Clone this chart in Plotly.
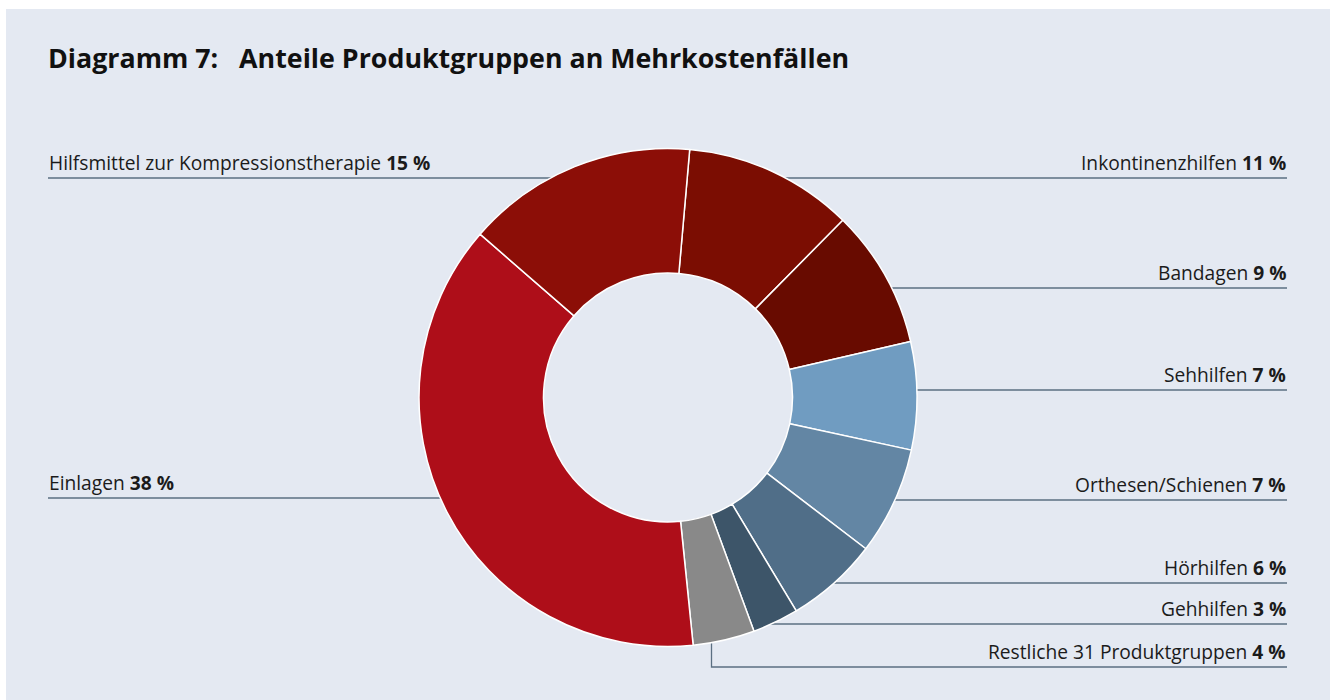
import math
import plotly.graph_objects as go

# ---- data ----
categories = [
    "Inkontinenzhilfen",
    "Bandagen",
    "Sehhilfen",
    "Orthesen/Schienen",
    "Hörhilfen",
    "Gehhilfen",
    "Restliche 31 Produktgruppen",
    "Einlagen",
    "Hilfsmittel zur Kompressionstherapie",
]
shares = [11, 9, 7, 7, 6, 3, 4, 38, 15]
title_text = "Diagramm 7:&nbsp;&nbsp;&nbsp;Anteile Produktgruppen an Mehrkostenfällen"

# ---- styles / layout config ----
colors = ["#7b0d02", "#680b00", "#709cc1", "#6386a4", "#506e88",
          "#3d5569", "#898989", "#ae0e19", "#8c0e07"]
W, H = 1335, 700
CX, CY, R = 668, 397.5, 249
HOLE = 0.5
ROT = 5
LEFT_X, RIGHT_X = 47, 1288
# y (px) of each label's leader line
label_line_y = {
    "Inkontinenzhilfen": 178,
    "Bandagen": 288,
    "Sehhilfen": 390,
    "Orthesen/Schienen": 500,
    "Hörhilfen": 583,
    "Gehhilfen": 624,
    "Restliche 31 Produktgruppen": 667,
    "Einlagen": 498,
    "Hilfsmittel zur Kompressionstherapie": 178,
}
elbow_x = {"Restliche 31 Produktgruppen": 711.5}
LINE_COLOR = "#5b6f82"
BG = "#e4e9f2"
FONT = "Open Sans"


def px(x):
    return x / W


def py(y):
    return 1 - y / H


fig = go.Figure(go.Pie(
    labels=categories, values=shares, sort=False, direction="clockwise",
    rotation=ROT, hole=HOLE, textinfo="none", showlegend=False,
    hoverinfo="label+percent",
    marker=dict(colors=colors, line=dict(color="white", width=1.5)),
    domain=dict(x=[px(CX - R), px(CX + R)], y=[py(CY + R), py(CY - R)]),
))

shapes = [dict(type="rect", xref="paper", yref="paper", x0=px(6), x1=px(1330),
               y0=0, y1=py(9), fillcolor=BG, line=dict(width=0), layer="below")]
annotations = []

total = sum(shares)
cum = 0
for cat, v in zip(categories, shares):
    mid = ROT + 360 * (cum + v / 2) / total
    cum += v
    side = "right" if (mid % 360) < 180 else "left"
    ly = label_line_y[cat]
    sgn = 1 if side == "right" else -1
    line_end = (RIGHT_X - 1) if side == "right" else (LEFT_X + 1)
    if cat in elbow_x:
        ex = elbow_x[cat]
        dx = ex - CX
        top = CY + math.sqrt(max(R * R - dx * dx, 0)) - 2
        shapes.append(dict(type="path", xref="paper", yref="paper",
                           path=f"M {px(ex)} {py(top)} L {px(ex)} {py(ly)} L {px(line_end)} {py(ly)}",
                           line=dict(color=LINE_COLOR, width=1.3), layer="below"))
    else:
        dy = ly - CY
        start = CX + sgn * (math.sqrt(max(R * R - dy * dy, 0)) - 2)
        shapes.append(dict(type="line", xref="paper", yref="paper",
                           x0=px(start), x1=px(line_end), y0=py(ly), y1=py(ly),
                           line=dict(color=LINE_COLOR, width=1.3), layer="below"))
    annotations.append(dict(
        xref="paper", yref="paper",
        x=px(RIGHT_X if side == "right" else LEFT_X), y=py(ly),
        xanchor="right" if side == "right" else "left", yanchor="bottom",
        yshift=0, showarrow=False,
        text=f"{cat} <b>{v} %</b>",
        font=dict(family=FONT, size=19.2, color="#1b1b1b"),
    ))

annotations.append(dict(
    xref="paper", yref="paper", x=px(LEFT_X - 1), y=py(58), xanchor="left",
    yanchor="middle", showarrow=False, text=f"<b>{title_text}</b>",
    font=dict(family=FONT, size=26.8, color="#111111"),
))

fig.update_layout(
    width=W, height=H, margin=dict(l=0, r=0, t=0, b=0),
    paper_bgcolor="white", plot_bgcolor="white",
    shapes=shapes, annotations=annotations,
)
fig.write_html("out.html", config={"displayModeBar": False},
               post_script="document.body.style.margin='0';")
